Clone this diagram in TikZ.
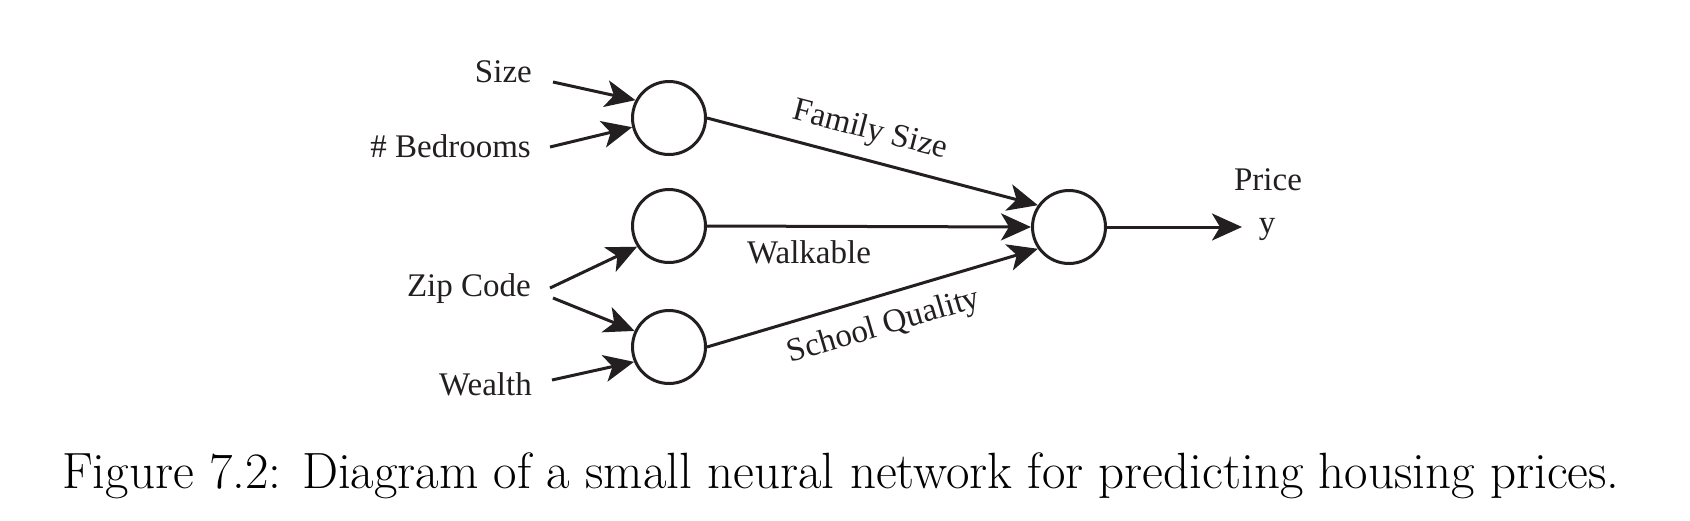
\documentclass[tikz,border=0pt]{standalone}
\usepackage{fontspec}
\newfontfamily\timesf{Liberation Serif}
\usetikzlibrary{arrows.meta}
\definecolor{ink}{HTML}{231F20}
\begin{document}
\begin{tikzpicture}[x=1pt,y=-1pt,
  neuron/.style={circle,draw=ink,line width=3pt,minimum size=73pt,inner sep=0pt},
  lbl/.style={inner sep=0pt,font=\timesf\fontsize{33}{38}\selectfont,text=ink},
  conn/.style={draw=ink,line width=3pt,-{Stealth[length=30pt,width=27pt,inset=8pt]}},
  edge/.style={draw=ink,line width=3pt}]
\useasboundingbox (0,0) rectangle (1690,520);
% neurons
\node[neuron] (n1) at (669,118) {};
\node[neuron] (n2) at (669,226) {};
\node[neuron] (n3) at (669,347) {};
\node[neuron] (out) at (1069,227) {};
% input labels
\node[lbl,anchor=base east] (lsize) at (532,82) {Size};
\node[lbl,anchor=base east] (lbed) at (531,157) {\# Bedrooms};
\node[lbl,anchor=base east] (lzip) at (531,296) {Zip Code};
\node[lbl,anchor=base east] (lwealth) at (532,395) {Wealth};
% arrow starts
\coordinate (sS) at (553,82);
\coordinate (sB) at (550,147);
\coordinate (sZa) at (550,288);
\coordinate (sZb) at (553,298);
\coordinate (sW) at (552,380);
\coordinate (yT) at (1242,227);
% input arrows
\draw[conn] (sS) -- (n1.152);
\draw[conn] (sB) -- (n1.194);
\draw[conn] (sZa) -- (n2.213);
\draw[conn] (sZb) -- (n3.155);
\draw[conn] (sW) -- (n3.203);
% hidden to output
\draw[conn] (n1.east) -- (out.145);
\draw[conn] (n2.east) -- (out.west);
\draw[conn] (n3.east) -- (out.215);
\draw[conn] (out.east) -- (yT);
% edge labels
\node[lbl,rotate=-14.5] (lfam) at (870,131) {Family Size};
\node[lbl,anchor=base] (lwalk) at (809,263) {Walkable};
\node[lbl,rotate=16.5] (lschool) at (884,327) {School Quality};
\node[lbl,anchor=base] (lprice) at (1268,190) {Price};
\node[lbl,anchor=base] (ly) at (1267,233) {y};
% caption
\node[anchor=base west,inner sep=0pt,font=\fontsize{51}{60}\selectfont] (cap) at (62,488) {Figure 7.2: Diagram of a small neural network for predicting housing prices.};
\end{tikzpicture}
\end{document}
